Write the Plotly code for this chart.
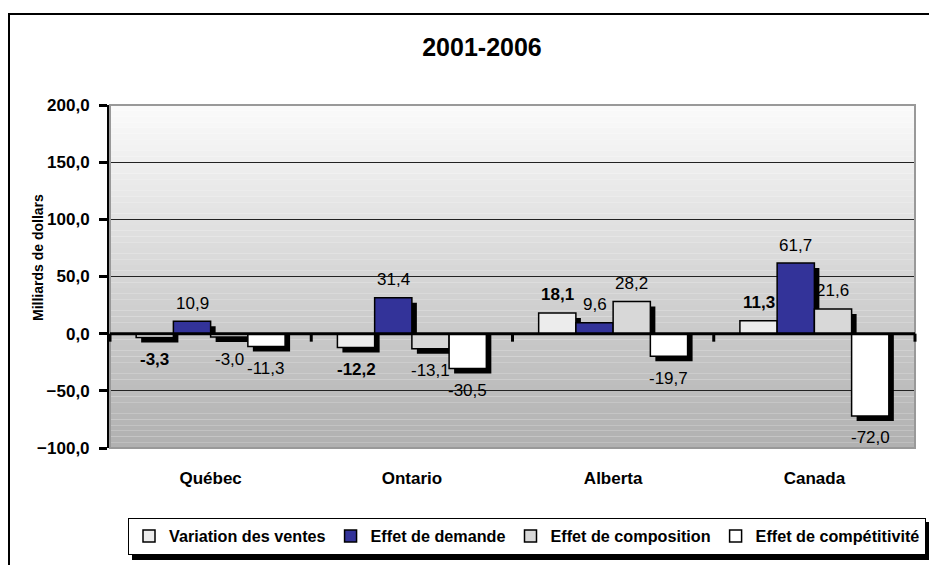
import plotly.graph_objects as go

categories = ["Québec", "Ontario", "Alberta", "Canada"]
series_names = ["Variation des ventes", "Effet de demande", "Effet de composition", "Effet de compétitivité"]
variation = [-3.3, -12.2, 18.1, 11.3]
demande = [10.9, 31.4, 9.6, 61.7]
composition = [-3.0, -13.1, 28.2, 21.6]
competitivite = [-11.3, -30.5, -19.7, -72.0]
series_values = [variation, demande, composition, competitivite]
colors = ["#ececec", "#333399", "#d8d8d8", "#ffffff"]
bold = [True, False, False, False]

y_range = [-100, 200]
y_tick_vals = [-100, -50, 0, 50, 100, 150, 200]

# page offset (default body margin of the html page)
OFF = 8
W, H = 937 - OFF, 565 - OFF
# plot area in screen pixels: x 110..915, y 105..448
L, T = 110 - OFF, 105 - OFF
R, B = W - (915 - OFF), H - (448 - OFF)
PW, PH = W - L - R, H - T - B
FONT = "Liberation Sans"

def px_x(p):
    return (p - OFF - L) / PW

def px_y(p):
    return (H - B - (p - OFF)) / PH

bar_w = 0.185
start = -2 * bar_w
shadow_px = 5
d_units = shadow_px * (y_range[1] - y_range[0]) / PH
d_cat = shadow_px / (PW / len(categories))

fig = go.Figure()

# shadows
for i, vals in enumerate(series_values):
    fig.add_trace(go.Bar(
        x=categories, y=[v - d_units for v in vals],
        width=bar_w, offset=start + i * bar_w + d_cat,
        marker=dict(color="#000000", line=dict(width=0)),
        showlegend=False, hoverinfo="skip"))

for i, vals in enumerate(series_values):
    fig.add_trace(go.Bar(
        x=categories, y=vals, name=series_names[i],
        width=bar_w, offset=start + i * bar_w,
        marker=dict(color=colors[i], line=dict(color="#000000", width=1.5)),
        hoverinfo="x+y+name"))

# data labels
annotations = []
for i, vals in enumerate(series_values):
    for j, v in enumerate(vals):
        label = f"{v:.1f}".replace(".", ",")
        if bold[i]:
            label = f"<b>{label}</b>"
        annotations.append(dict(
            x=j + start + (i + 0.5) * bar_w, y=v, xref="x", yref="y",
            text=label, showarrow=False, xanchor="center", yanchor="middle",
            yshift=18 if v >= 0 else -22,
            font=dict(family=FONT, size=17, color="#000000")))

annotations.append(dict(text="<b>Milliards de dollars</b>", textangle=-90, showarrow=False,
                        xref="paper", yref="paper", x=px_x(38), y=px_y(258),
                        xanchor="center", yanchor="middle",
                        font=dict(family=FONT, size=14)))

shapes = []
# background gradient
n = 60
for k in range(n):
    t = (k + 0.5) / n
    c = int(round(251 - (251 - 176) * t))
    shapes.append(dict(type="rect", xref="x domain", yref="y domain",
                       x0=0, x1=1, y0=1 - (k + 1) / n, y1=1 - k / n,
                       fillcolor=f"rgb({c},{c},{c})", line=dict(width=0), layer="below"))
# plot border
shapes.append(dict(type="rect", xref="x domain", yref="y domain", x0=0, x1=1, y0=0, y1=1,
                   line=dict(color="#999999", width=2), layer="above"))
# zero line
shapes.append(dict(type="line", xref="x domain", yref="y", x0=0, x1=1, y0=0, y1=0,
                   line=dict(color="#000000", width=3), layer="above"))
# category ticks on zero line
for k in range(len(categories) + 1):
    shapes.append(dict(type="line", xref="x domain", yref="y", ysizemode="pixel", yanchor=0,
                       x0=k / len(categories), x1=k / len(categories), y0=0, y1=-8,
                       line=dict(color="#000000", width=3), layer="above"))
# outer frame
shapes.append(dict(type="rect", xref="paper", yref="paper",
                   x0=px_x(9), x1=px_x(980), y0=px_y(600), y1=px_y(14),
                   line=dict(color="#000000", width=2), layer="below"))
# legend shadow
shapes.append(dict(type="rect", xref="paper", yref="paper",
                   x0=px_x(132), x1=px_x(935), y0=px_y(560), y1=px_y(522),
                   fillcolor="#000000", line=dict(width=0), layer="above"))

fig.update_layout(
    width=W, height=H,
    margin=dict(l=L, r=R, t=T, b=B, autoexpand=False),
    paper_bgcolor="#ffffff", plot_bgcolor="rgba(0,0,0,0)",
    barmode="overlay",
    separators=", ",
    font=dict(family=FONT, color="#000000"),
    title=dict(text="<b>2001-2006</b>", x=(482 - OFF) / W, xanchor="center",
               y=1 - (47 - OFF) / H, yanchor="middle", font=dict(family=FONT, size=25)),
    shapes=shapes,
    annotations=annotations,
    showlegend=True,
    legend=dict(orientation="h", x=px_x(128), xanchor="left", y=px_y(518), yanchor="top",
                bgcolor="#ffffff", bordercolor="#000000", borderwidth=1,
                font=dict(family=FONT, size=16.2, weight="bold"),
                itemwidth=30, traceorder="normal"),
    xaxis=dict(type="category", range=[-0.5, len(categories) - 0.5], showgrid=False,
               showline=False, zeroline=False, ticks="", ticklabelstandoff=18,
               automargin=False,
               tickfont=dict(family=FONT, size=17, weight="bold")),
    yaxis=dict(range=y_range, tickvals=y_tick_vals, tickformat=".1f",
               showgrid=True, gridcolor="#222222", gridwidth=1, zeroline=False,
               showline=True, linecolor="#000000", linewidth=3,
               ticks="outside", ticklen=8, tickwidth=3, tickcolor="#000000",
               ticklabelstandoff=6, automargin=False,
               tickfont=dict(family=FONT, size=17, weight="bold")),
)

fig.write_html("out.html")
